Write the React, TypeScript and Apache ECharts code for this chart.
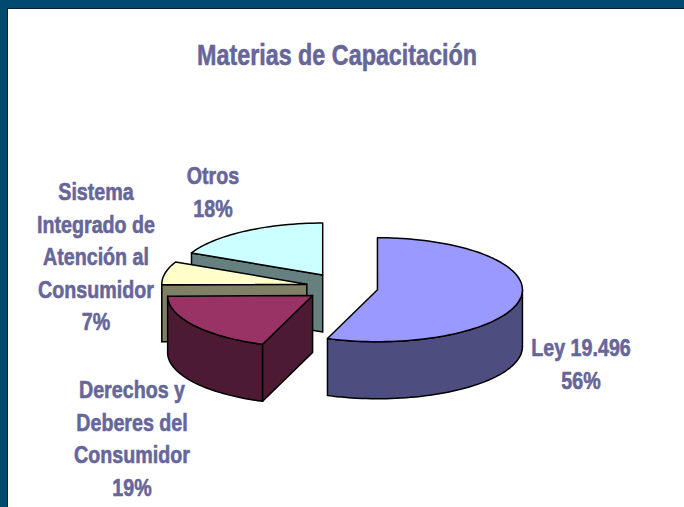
import React, { useEffect, useRef } from "react";
import * as echarts from "echarts";

const titleText = "Materias de Capacitación";
const categories = [
  ["Ley 19.496"],
  ["Derechos y", "Deberes del", "Consumidor"],
  ["Sistema", "Integrado de", "Atención al", "Consumidor"],
  ["Otros"],
];
const values = [55.6, 19.2, 7.2, 18];
const topColors = ["#9999FF", "#993366", "#FFFFCC", "#CCFFFF"];
const sideColors = ["#4D4D80", "#4D1A33", "#808066", "#668080"];
const labelAnchors = [
  [581, 332],
  [132, 373.5],
  [96, 175.5],
  [213, 159.5],
];

const CX = 342;
const CY = 287.2;
const RX = 145;
const RY = 52;
const DEPTH = 57;
const EXPLODE = 36;
const EXPLODE_Y = 0.4;
const TEXT = "#666699";
const FONT = "'Liberation Sans', Arial, sans-serif";
const LABEL_SIZE = 24;
const LABEL_SCALE = 0.82;
const TITLE_SIZE = 30;
const TITLE_SCALE = 0.778;
const LINE_H = 32.6;

const total = values.reduce((s, v) => s + v, 0);
const rad = (d: number) => (d * Math.PI) / 180;

function renderItem(params: any, api: any) {
  const idx = params.dataIndex;
  const before = values.slice(0, idx).reduce((s, v) => s + v, 0);
  const a = (before / total) * 360;
  const b = a + (api.value(0) / total) * 360;
  const mid = rad((a + b) / 2);
  const ox = CX + EXPLODE * Math.sin(mid);
  const oy = CY - EXPLODE * EXPLODE_Y * Math.cos(mid);
  const pt = (t: number, dy = 0) => [
    ox + RX * Math.sin(rad(t)),
    oy - RY * Math.cos(rad(t)) + dy,
  ];
  const arc = (from: number, to: number, dy = 0) => {
    const pts: number[][] = [];
    const n = Math.max(2, Math.ceil((to - from) / 2));
    for (let i = 0; i <= n; i++) pts.push(pt(from + ((to - from) * i) / n, dy));
    return pts;
  };
  const z2 = values.length - idx;
  const side = { fill: sideColors[idx], stroke: "#000", lineWidth: 1.5, lineJoin: "round" };
  const children: any[] = [];
  const wFrom = Math.max(a, 90);
  const wTo = Math.min(b, 270);
  if (wTo > wFrom) {
    children.push({
      type: "polygon",
      z2,
      shape: { points: [...arc(wFrom, wTo), ...arc(wFrom, wTo, DEPTH).reverse()] },
      style: side,
    });
  }
  if (Math.sin(rad(a)) < -1e-6) {
    children.push({
      type: "polygon",
      z2,
      shape: { points: [[ox, oy], pt(a), pt(a, DEPTH), [ox, oy + DEPTH]] },
      style: side,
    });
  }
  children.push({
    type: "polygon",
    z2,
    shape: { points: [[ox, oy], ...arc(a, b)] },
    style: { fill: topColors[idx], stroke: "#000", lineWidth: 1.5, lineJoin: "round" },
  });
  return { type: "group", children };
}

export default function App() {
  const ref = useRef<HTMLDivElement>(null);
  useEffect(() => {
    const chart = echarts.init(ref.current!, null, { renderer: "svg" });
    chart.setOption({
      animation: false,
      backgroundColor: "#FFFFFF",
      graphic: [
        { type: "rect", shape: { x: 0, y: 0, width: 684, height: 8 }, style: { fill: "#004A70" }, z: 10 },
        { type: "rect", shape: { x: 0, y: 0, width: 7, height: 507 }, style: { fill: "#004A70" }, z: 10 },
        { type: "rect", shape: { x: 7, y: 8, width: 677, height: 1 }, style: { fill: "#0A2030" }, z: 10 },
        { type: "rect", shape: { x: 7, y: 8, width: 1, height: 499 }, style: { fill: "#0A2030" }, z: 10 },
        {
          type: "text",
          x: 337,
          y: 55,
          scaleX: TITLE_SCALE,
          z: 10,
          style: {
            text: titleText,
            fill: TEXT,
            stroke: TEXT,
            lineWidth: 0.6,
            font: `bold ${TITLE_SIZE}px ${FONT}`,
            textAlign: "center",
            textVerticalAlign: "middle",
          },
        },
        ...categories.map((lines, i) => ({
          type: "text",
          x: labelAnchors[i][0],
          y: labelAnchors[i][1],
          scaleX: LABEL_SCALE,
          z: 10,
          style: {
            text: [...lines, `${Math.round(values[i])}%`].join("\n"),
            fill: TEXT,
            stroke: TEXT,
            lineWidth: 0.6,
            font: `bold ${LABEL_SIZE}px ${FONT}`,
            textAlign: "center",
            textVerticalAlign: "top",
            lineHeight: LINE_H,
          },
        })),
      ],
      series: [
        {
          type: "custom",
          coordinateSystem: "none",
          renderItem,
          silent: true,
          clip: false,
          data: values,
        },
      ],
    });
    return () => chart.dispose();
  }, []);
  return (
    <div
      ref={ref}
      style={{ position: "absolute", left: 0, top: 0, width: 684, height: 507 }}
    />
  );
}
